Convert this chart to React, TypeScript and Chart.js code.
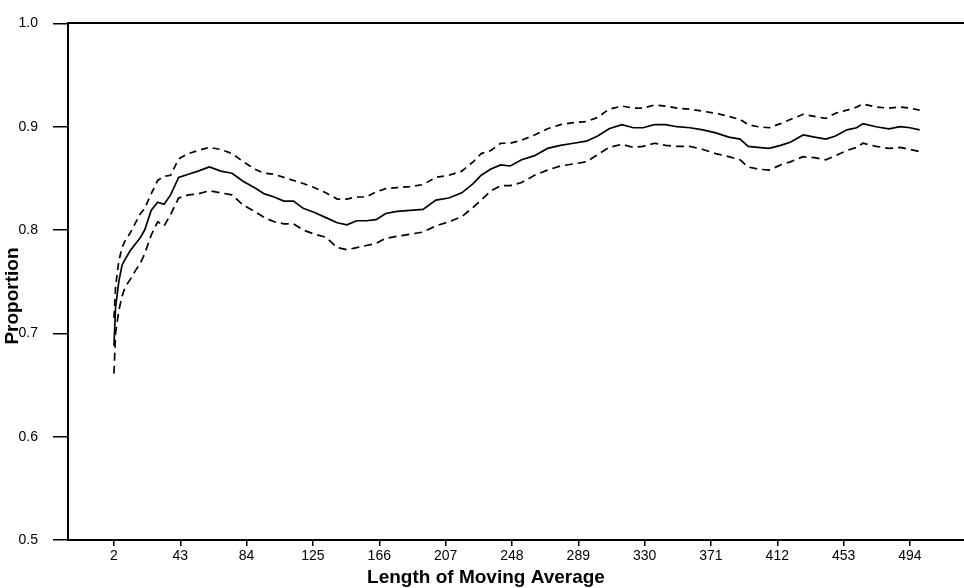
import React, { useEffect, useRef } from "react";
import { Chart, registerables } from "chart.js";

Chart.register(...registerables);

const X_VALUES = [2, 3, 5, 7, 9, 12, 15, 18, 21, 25, 29, 33, 37, 42, 48, 54, 61, 68, 75, 82, 89, 95, 101, 107, 113, 119, 126, 133, 140, 146, 152, 158, 164, 170, 177, 185, 193, 201, 209, 217, 224, 229, 235, 241, 247, 254, 262, 270, 278, 286, 294, 301, 308, 316, 323, 329, 336, 343, 350, 358, 366, 374, 382, 389, 394, 400, 407, 414, 420, 428, 435, 442, 448, 455, 461, 465, 473, 481, 488, 494, 500];

const CENTER = [0.688, 0.725, 0.750, 0.766, 0.772, 0.780, 0.786, 0.792, 0.800, 0.819, 0.827, 0.825, 0.834, 0.851, 0.854, 0.857, 0.861, 0.857, 0.855, 0.847, 0.841, 0.835, 0.832, 0.828, 0.828, 0.821, 0.817, 0.812, 0.807, 0.805, 0.809, 0.809, 0.810, 0.816, 0.818, 0.819, 0.820, 0.829, 0.831, 0.836, 0.845, 0.853, 0.859, 0.863, 0.862, 0.868, 0.872, 0.879, 0.882, 0.884, 0.886, 0.891, 0.898, 0.902, 0.899, 0.899, 0.902, 0.902, 0.900, 0.899, 0.897, 0.894, 0.890, 0.888, 0.881, 0.880, 0.879, 0.882, 0.885, 0.892, 0.890, 0.888, 0.891, 0.897, 0.899, 0.903, 0.900, 0.898, 0.900, 0.899, 0.897];

const UPPER = [0.715, 0.745, 0.770, 0.783, 0.790, 0.797, 0.806, 0.815, 0.821, 0.835, 0.848, 0.852, 0.853, 0.869, 0.874, 0.877, 0.880, 0.878, 0.874, 0.866, 0.859, 0.855, 0.854, 0.851, 0.848, 0.845, 0.841, 0.836, 0.830, 0.830, 0.832, 0.832, 0.837, 0.840, 0.841, 0.842, 0.844, 0.851, 0.853, 0.857, 0.866, 0.874, 0.877, 0.884, 0.884, 0.887, 0.892, 0.898, 0.902, 0.904, 0.905, 0.909, 0.917, 0.920, 0.918, 0.918, 0.921, 0.920, 0.918, 0.917, 0.915, 0.913, 0.910, 0.907, 0.902, 0.900, 0.899, 0.903, 0.907, 0.912, 0.910, 0.908, 0.913, 0.916, 0.919, 0.922, 0.919, 0.918, 0.919, 0.918, 0.916];

const LOWER = [0.661, 0.700, 0.722, 0.736, 0.745, 0.752, 0.760, 0.767, 0.777, 0.795, 0.808, 0.804, 0.815, 0.831, 0.834, 0.835, 0.838, 0.836, 0.834, 0.824, 0.818, 0.812, 0.808, 0.806, 0.806, 0.800, 0.796, 0.793, 0.783, 0.781, 0.783, 0.785, 0.787, 0.792, 0.794, 0.796, 0.798, 0.804, 0.808, 0.813, 0.822, 0.829, 0.838, 0.843, 0.843, 0.846, 0.853, 0.858, 0.862, 0.864, 0.866, 0.873, 0.880, 0.883, 0.880, 0.881, 0.884, 0.882, 0.881, 0.881, 0.878, 0.874, 0.871, 0.868, 0.861, 0.859, 0.858, 0.863, 0.866, 0.871, 0.870, 0.868, 0.872, 0.877, 0.880, 0.884, 0.881, 0.879, 0.880, 0.878, 0.876];

const X_TICKS = [2, 43, 84, 125, 166, 207, 248, 289, 330, 371, 412, 453, 494];
const Y_TICKS = [0.5, 0.6, 0.7, 0.8, 0.9, 1.0];

const X_TITLE = "Length of Moving Average";
const Y_TITLE = "Proportion";

const FONT = '"Liberation Sans", Arial, Helvetica, sans-serif';

const titlePlugin = {
  id: "axisTitles",
  afterDraw(chart: any) {
    const ctx = chart.ctx;
    ctx.save();
    ctx.fillStyle = "#000";
    ctx.font = `bold 19px ${FONT}`;
    ctx.textAlign = "center";
    ctx.textBaseline = "middle";
    ctx.fillText(X_TITLE, 486, 578);
    ctx.translate(13, 296);
    ctx.rotate(-Math.PI / 2);
    ctx.fillText(Y_TITLE, 0, 0);
    ctx.restore();
  },
};

export default function App() {
  const ref = useRef<HTMLCanvasElement | null>(null);

  useEffect(() => {
    if (!ref.current) return;
    const mk = (arr: number[]) => X_VALUES.map((x, i) => ({ x, y: arr[i] }));
    const chart = new Chart(ref.current, {
      type: "line",
      data: {
        datasets: [
          { label: "Upper", data: mk(UPPER), borderColor: "#000", borderWidth: 1.7, borderDash: [7, 5], pointRadius: 0, tension: 0 },
          { label: "Proportion", data: mk(CENTER), borderColor: "#000", borderWidth: 1.7, pointRadius: 0, tension: 0 },
          { label: "Lower", data: mk(LOWER), borderColor: "#000", borderWidth: 1.7, borderDash: [8, 5], pointRadius: 0, tension: 0 },
        ],
      },
      options: {
        responsive: false,
        animation: false,
        layout: { padding: { top: 17, right: 0, left: 0, bottom: 0 } },
        plugins: { legend: { display: false }, tooltip: { enabled: false } },
        scales: {
          x: {
            type: "linear",
            min: -26.4,
            max: 527.4,
            afterBuildTicks: (scale: any) => {
              scale.ticks = X_TICKS.map((v) => ({ value: v }));
            },
            afterFit: (scale: any) => {
              scale.height = 48;
            },
            ticks: {
              autoSkip: false,
              maxRotation: 0,
              color: "#000",
              font: { family: FONT, size: 14 },
              padding: 2,
              callback: (v: any) => String(v),
            },
            grid: { drawOnChartArea: false, tickLength: 6, color: "#000", lineWidth: 1.5 },
            border: { display: true, color: "#000", width: 2 },
          },
          x2: {
            type: "linear",
            position: "top",
            min: -26.4,
            max: 527.4,
            afterFit: (scale: any) => {
              scale.height = 0;
            },
            ticks: { display: false },
            grid: { drawOnChartArea: false, drawTicks: false },
            border: { display: true, color: "#000", width: 2 },
          },
          y: {
            min: 0.5,
            max: 1.0,
            afterBuildTicks: (scale: any) => {
              scale.ticks = Y_TICKS.map((v) => ({ value: v }));
            },
            afterFit: (scale: any) => {
              scale.width = 68;
            },
            ticks: {
              color: "#000",
              font: { family: FONT, size: 14 },
              padding: 15,
              callback: (v: any) => Number(v).toFixed(1),
            },
            grid: { drawOnChartArea: false, tickLength: 15, color: "#000", lineWidth: 1.5 },
            border: { display: true, color: "#000", width: 2 },
          },
        },
      },
      plugins: [titlePlugin],
    });
    return () => chart.destroy();
  }, []);

  return (
    <div style={{ position: "fixed", left: 0, top: 0, width: 964, height: 588, background: "#fff" }}>
      <canvas ref={ref} width={964} height={588} />
    </div>
  );
}
